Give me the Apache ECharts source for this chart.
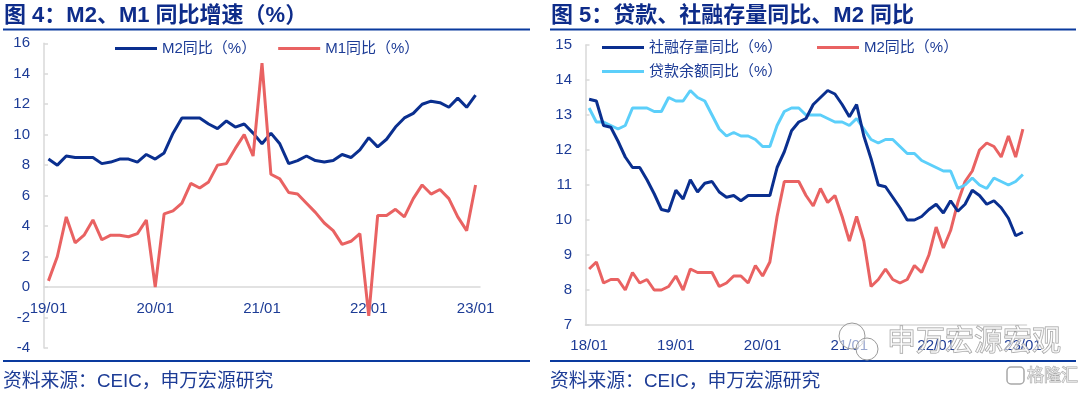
<!DOCTYPE html>
<html><head><meta charset="utf-8">
<script src="https://cdn.jsdelivr.net/npm/echarts@6/dist/echarts.min.js"></script>
<style>html,body{margin:0;padding:0;background:#fff}#c{width:1080px;height:394px}</style>
</head><body><div id="c"></div>
<script>
// ---- data ----
const months = [
'18/01','18/02','18/03','18/04','18/05','18/06','18/07','18/08','18/09','18/10','18/11','18/12',
'19/01','19/02','19/03','19/04','19/05','19/06','19/07','19/08','19/09','19/10','19/11','19/12',
'20/01','20/02','20/03','20/04','20/05','20/06','20/07','20/08','20/09','20/10','20/11','20/12',
'21/01','21/02','21/03','21/04','21/05','21/06','21/07','21/08','21/09','21/10','21/11','21/12',
'22/01','22/02','22/03','22/04','22/05','22/06','22/07','22/08','22/09','22/10','22/11','22/12',
'23/01'];
const leftMonths = months.slice(12);

// Figure 4 (19/01 - 23/01)
const m2Left = [8.4,8.0,8.6,8.5,8.5,8.5,8.1,8.2,8.4,8.4,8.2,8.7,
  8.4,8.8,10.1,11.1,11.1,11.1,10.7,10.4,10.9,10.5,10.7,10.1,
  9.4,10.1,9.4,8.1,8.3,8.6,8.3,8.2,8.3,8.7,8.5,9.0,
  9.8,9.2,9.7,10.5,11.1,11.4,12.0,12.2,12.1,11.8,12.4,11.8,12.6];
const m1Left = [0.4,2.0,4.6,2.9,3.4,4.4,3.1,3.4,3.4,3.3,3.5,4.4,
  0.0,4.8,5.0,5.5,6.8,6.5,6.9,8.0,8.1,9.1,10.0,8.6,
  14.7,7.4,7.1,6.2,6.1,5.5,4.9,4.2,3.7,2.8,3.0,3.5,
  -1.9,4.7,4.7,5.1,4.6,5.8,6.7,6.1,6.4,5.8,4.6,3.7,6.7];

// Figure 5 (18/01 - 23/01)
const tsfRight = [13.45,13.4,12.7,12.65,12.25,11.8,11.5,11.5,11.15,10.75,10.3,10.25,
  10.85,10.6,11.15,10.8,11.05,11.1,10.8,10.65,10.7,10.55,10.7,10.7,
  10.7,10.7,11.5,11.95,12.55,12.8,12.9,13.3,13.5,13.7,13.6,13.3,
  12.95,13.3,12.4,11.75,11.0,10.95,10.65,10.35,10.0,10.0,10.1,10.3,
  10.45,10.2,10.55,10.25,10.45,10.85,10.7,10.45,10.55,10.35,10.05,9.55,9.65];
const m2Right = [8.6,8.8,8.2,8.3,8.3,8.0,8.5,8.2,8.3,8.0,8.0,8.1,
  8.4,8.0,8.6,8.5,8.5,8.5,8.1,8.2,8.4,8.4,8.2,8.7,
  8.4,8.8,10.1,11.1,11.1,11.1,10.7,10.4,10.9,10.5,10.7,10.1,
  9.4,10.1,9.4,8.1,8.3,8.6,8.3,8.2,8.3,8.7,8.5,9.0,
  9.8,9.2,9.7,10.5,11.1,11.4,12.0,12.2,12.1,11.8,12.4,11.8,12.6];
const loanRight = [13.2,12.8,12.8,12.7,12.6,12.7,13.2,13.2,13.2,13.1,13.1,13.5,
  13.4,13.4,13.7,13.5,13.4,13.0,12.6,12.4,12.5,12.4,12.4,12.3,
  12.1,12.1,12.7,13.1,13.2,13.2,13.0,13.0,13.0,12.9,12.8,12.8,
  12.7,12.9,12.6,12.3,12.2,12.3,12.3,12.1,11.9,11.9,11.7,11.6,
  11.5,11.4,11.4,10.9,11.0,11.2,11.0,10.9,11.2,11.1,11.0,11.1,11.3];

const legendNames = {
  l_m2: 'M2同比（%）', l_m1: 'M1同比（%）',
  r_tsf: '社融存量同比（%）', r_m2: 'M2同比（%）', r_loan: '贷款余额同比（%）'
};
const titleLeft = '图 4：M2、M1 同比增速（%）';
const titleRight = '图 5：贷款、社融存量同比、M2 同比';
const sourceText = '资料来源：CEIC，申万宏源研究';

// ---- style ----
const NAVY = '#0a2f8f', RED = '#e96262', SKY = '#5ccffa';
const LABEL = '#1d3c96', TITLE = '#0e2c8a', RULE = '#0a3a9e', AXIS = '#d9d9d9';
const FONT = '"Liberation Sans","Noto Sans CJK SC",sans-serif';

const chart = echarts.init(document.getElementById('c'), null, {renderer: 'canvas'});

const LEFT_H = 304.6, LEFT_MIN = -4, LEFT_MAX = 16;

function xAxisCfg(grid, data, margin, offset) {
  return {
    type: 'category', gridIndex: grid, data: data, boundaryGap: true, offset: offset,
    axisLine: {onZero: false, lineStyle: {color: AXIS, width: 1.5}},
    axisTick: {inside: true, interval: 2, length: 5, lineStyle: {color: AXIS, width: 1.5}},
    axisLabel: {interval: 11, color: LABEL, fontSize: 15, fontFamily: FONT, margin: margin},
    splitLine: {show: false}
  };
}
function yAxisCfg(grid, min, max, interval, margin) {
  return {
    type: 'value', gridIndex: grid, min: min, max: max, interval: interval,
    axisLine: {show: true, lineStyle: {color: AXIS, width: 1.5}},
    axisTick: {show: true, inside: true, length: 4, lineStyle: {color: AXIS, width: 1.5}},
    axisLabel: {color: LABEL, fontSize: 15, fontFamily: FONT, margin: margin},
    splitLine: {show: false}
  };
}
function lineSeries(name, x, y, data, color) {
  return {
    name: name, type: 'line', xAxisIndex: x, yAxisIndex: y, data: data,
    symbol: 'none', lineStyle: {color: color, width: 3}, itemStyle: {color: color},
    emphasis: {disabled: true}, silent: true
  };
}
function legendCfg(names, left, top, gap) {
  return {
    data: names, left: left, top: top, padding: 0, itemGap: gap || 22,
    icon: 'rect', itemWidth: 42, itemHeight: 3,
    textStyle: {color: LABEL, fontSize: 15, fontFamily: FONT},
    formatter: n => legendNames[n], selectedMode: false
  };
}
function text(x, y, str, size, color, weight) {
  return {type: 'text', x: x, y: y, z: 100,
    style: {text: str, fill: color, fontSize: size, fontWeight: weight || 'normal',
      fontFamily: FONT, textVerticalAlign: 'middle'}};
}
function rule(x1, x2, y) {
  return {type: 'line', z: 100, shape: {x1: x1, y1: y, x2: x2, y2: y},
    style: {stroke: RULE, lineWidth: 2}};
}
const wm = {fill: 'rgba(255,255,255,0.55)', stroke: '#9a9a9a', lineWidth: 1};

// x axis of figure 4 sits on the zero line
const zeroOffset = -LEFT_H * (0 - LEFT_MIN) / (LEFT_MAX - LEFT_MIN);

chart.setOption({
  animation: false,
  backgroundColor: '#fff',
  grid: [
    {left: 44, top: 43.3, width: 436, height: LEFT_H},
    {left: 585.5, top: 45, width: 441, height: 280}
  ],
  xAxis: [xAxisCfg(0, leftMonths, 14, zeroOffset), xAxisCfg(1, months, 13.5, 0)],
  yAxis: [yAxisCfg(0, LEFT_MIN, LEFT_MAX, 2, 14), yAxisCfg(1, 7, 15, 1, 13.5)],
  legend: [
    legendCfg(['l_m2', 'l_m1'], 115, 41, 22),
    legendCfg(['r_tsf'], 602, 40),
    legendCfg(['r_m2'], 817, 40),
    legendCfg(['r_loan'], 602, 64)
  ],
  series: [
    lineSeries('l_m2', 0, 0, m2Left, NAVY),
    lineSeries('l_m1', 0, 0, m1Left, RED),
    lineSeries('r_m2', 1, 1, m2Right, RED),
    lineSeries('r_loan', 1, 1, loanRight, SKY),
    lineSeries('r_tsf', 1, 1, tsfRight, NAVY)
  ],
  graphic: [
    text(4, 15.5, titleLeft, 22, TITLE, 'bold'),
    text(551, 15.5, titleRight, 22, TITLE, 'bold'),
    rule(3, 530, 29.5),
    rule(550, 1076, 29.5),
    rule(3, 530, 361),
    rule(550, 1076, 361),
    text(3, 382, sourceText, 18.8, LABEL),
    text(550, 382, sourceText, 18.8, LABEL),
    // watermark
    {type: 'circle', z: 120, shape: {cx: 852, cy: 336, r: 13}, style: wm},
    {type: 'circle', z: 121, shape: {cx: 867, cy: 349, r: 11}, style: wm},
    {type: 'text', z: 122, x: 887, y: 343, style: {text: '申万宏源宏观', fontSize: 29,
      fontFamily: FONT, textVerticalAlign: 'middle', fill: 'rgba(255,255,255,0.55)', stroke: '#9a9a9a', lineWidth: 1}},
    {type: 'rect', z: 122, shape: {x: 1007, y: 367, width: 17, height: 17, r: 4},
      style: {fill: 'none', stroke: '#a8a8a8', lineWidth: 1.5}},
    {type: 'text', z: 122, x: 1027, y: 376, style: {text: '格隆汇', fontSize: 17,
      fontFamily: FONT, textVerticalAlign: 'middle', fill: 'rgba(255,255,255,0.6)', stroke: '#a8a8a8', lineWidth: 1}}
  ]
});
</script>
</body></html>
